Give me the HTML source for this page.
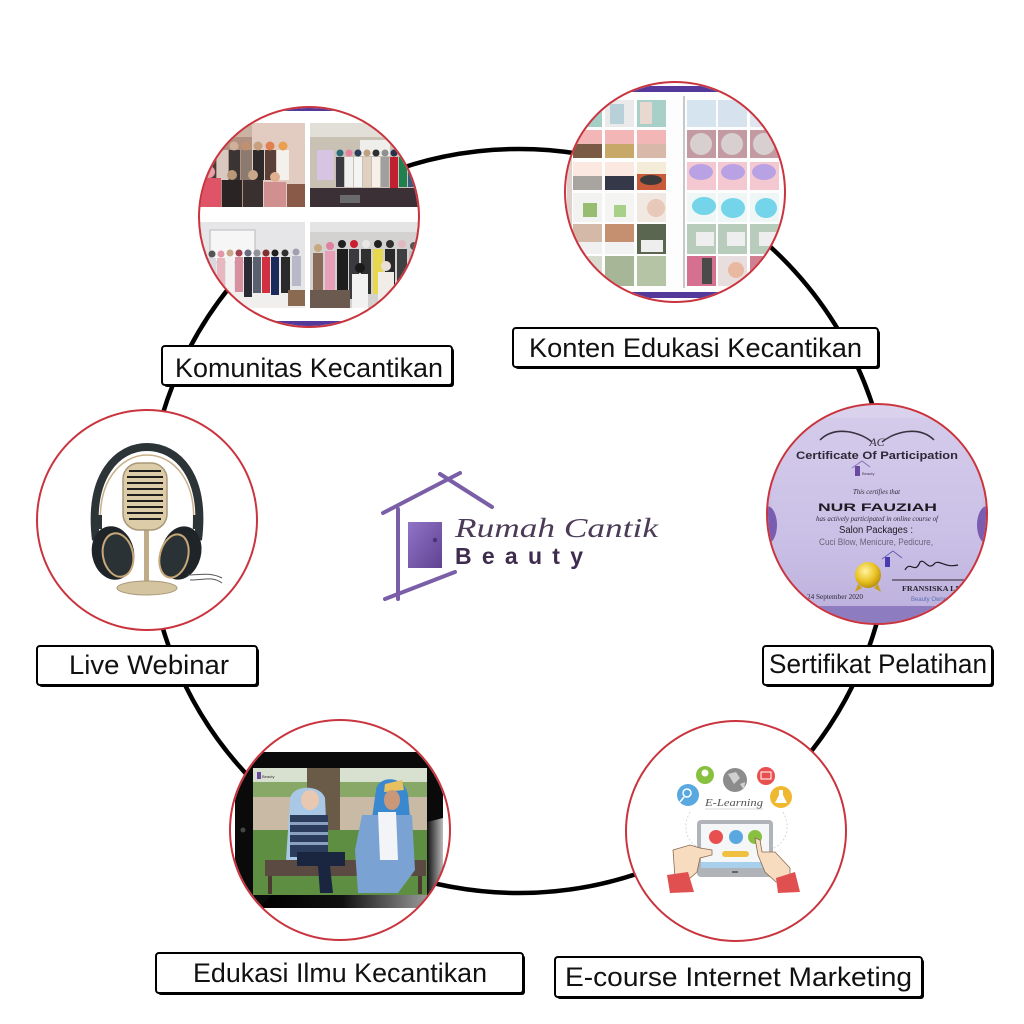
<!DOCTYPE html>
<html>
<head>
<meta charset="utf-8">
<style>
html,body{margin:0;padding:0;background:#fff;}
svg{display:block;}
</style>
</head>
<body>
<svg width="1024" height="1024" viewBox="0 0 1024 1024" xmlns="http://www.w3.org/2000/svg">
<defs>
  <clipPath id="c1"><circle cx="309" cy="217" r="109"/></clipPath>
  <clipPath id="c2"><circle cx="675" cy="192" r="109"/></clipPath>
  <clipPath id="c3"><circle cx="147" cy="520" r="109"/></clipPath>
  <clipPath id="c4"><circle cx="877" cy="514" r="109"/></clipPath>
  <clipPath id="c5"><circle cx="340" cy="830" r="109"/></clipPath>
  <clipPath id="c6"><circle cx="736" cy="831" r="109"/></clipPath>
  <linearGradient id="certg" x1="0" y1="0" x2="0" y2="1">
    <stop offset="0" stop-color="#dcd4ee"/>
    <stop offset="0.6" stop-color="#c4b8e2"/>
    <stop offset="1" stop-color="#a293cc"/>
  </linearGradient>
  <linearGradient id="doorg" x1="0" y1="0" x2="1" y2="1">
    <stop offset="0" stop-color="#9274c8"/>
    <stop offset="1" stop-color="#5f4290"/>
  </linearGradient>
  <linearGradient id="tabr" x1="0" y1="0" x2="1" y2="0">
    <stop offset="0" stop-color="#111"/>
    <stop offset="1" stop-color="#bbb"/>
  </linearGradient>
  <linearGradient id="tabb" x1="0" y1="0" x2="1" y2="0">
    <stop offset="0" stop-color="#000"/>
    <stop offset="0.5" stop-color="#111"/>
    <stop offset="1" stop-color="#999"/>
  </linearGradient>
  <radialGradient id="gold" cx="0.4" cy="0.35" r="0.7">
    <stop offset="0" stop-color="#fff4a0"/>
    <stop offset="0.6" stop-color="#e8c020"/>
    <stop offset="1" stop-color="#b08810"/>
  </radialGradient>
</defs>

<rect width="1024" height="1024" fill="#fff"/>

<!-- main ring -->
<circle cx="519" cy="521" r="372" fill="none" stroke="#000" stroke-width="4.5"/>

<!-- Logo -->
<g stroke="#7a5fa8" stroke-width="4" stroke-linecap="round" fill="none">
  <line x1="383" y1="513" x2="460" y2="473"/>
  <line x1="440" y1="474" x2="492" y2="507"/>
  <line x1="398" y1="509" x2="398" y2="599"/>
  <line x1="385" y1="599" x2="455" y2="572"/>
</g>
<rect x="408" y="522" width="34" height="46" fill="url(#doorg)"/>
<circle cx="435" cy="540" r="2.2" fill="#4a3278"/>
<text x="455" y="537" font-family="Liberation Serif, serif" font-style="italic" font-size="27" fill="#4b3b58" textLength="203" lengthAdjust="spacingAndGlyphs">Rumah Cantik</text>
<text x="455" y="564" font-family="Liberation Sans, sans-serif" font-weight="bold" font-size="23" fill="#3e2c4e" textLength="128" lengthAdjust="spacing">Beauty</text>

<!-- ===== Komunitas circle ===== -->
<circle cx="309" cy="217" r="110" fill="#fff"/>
<g clip-path="url(#c1)">
  <rect x="195" y="100" width="230" height="235" fill="#fff"/>
  <rect x="195" y="103" width="230" height="8" fill="#55399a"/>
  <rect x="195" y="321" width="230" height="9" fill="#55399a"/>
  <!-- TL photo -->
  <rect x="199" y="123" width="106" height="84" fill="#b09080"/>
  <rect x="252" y="123" width="53" height="84" fill="#e2ccc2"/>
  <rect x="199" y="123" width="53" height="14" fill="#cbb3a4"/>
  <g>
    <rect x="205" y="150" width="11" height="30" fill="#4a3a38"/><circle cx="210" cy="146" r="4.5" fill="#c7a890"/>
    <rect x="217" y="150" width="11" height="30" fill="#d8c8c0"/><circle cx="222" cy="146" r="4.5" fill="#a89080"/>
    <rect x="229" y="150" width="11" height="30" fill="#3a3434"/><circle cx="234" cy="146" r="4.5" fill="#d0b098"/>
    <rect x="241" y="150" width="11" height="30" fill="#8a7a70"/><circle cx="246" cy="146" r="4.5" fill="#c09070"/>
    <rect x="253" y="150" width="11" height="30" fill="#2e2a2a"/><circle cx="258" cy="146" r="4.5" fill="#c8a080"/>
    <rect x="265" y="150" width="11" height="30" fill="#5a4038"/><circle cx="270" cy="146" r="4.5" fill="#e08050"/>
    <rect x="277" y="150" width="12" height="30" fill="#f4f0ec"/><circle cx="283" cy="146" r="4.5" fill="#e8a050"/>
    <rect x="199" y="178" width="22" height="29" fill="#e05468"/><circle cx="209" cy="172" r="6" fill="#e8a0a8"/>
    <rect x="222" y="180" width="20" height="27" fill="#2a2424"/><circle cx="232" cy="175" r="5" fill="#b89878"/>
    <rect x="243" y="180" width="20" height="27" fill="#3a3030"/><circle cx="253" cy="175" r="5" fill="#c8a888"/>
    <rect x="264" y="182" width="22" height="25" fill="#d09090"/><circle cx="275" cy="177" r="5" fill="#e0b090"/>
    <rect x="287" y="184" width="18" height="23" fill="#8a5a48"/>
  </g>
  <!-- TR photo -->
  <rect x="310" y="123" width="112" height="84" fill="#c9c2b4"/>
  <rect x="310" y="123" width="112" height="14" fill="#e2dfd8"/>
  <rect x="360" y="140" width="30" height="16" fill="#eeeeea"/>
  <rect x="317" y="150" width="17" height="30" fill="#d6c4e2"/>
  <g>
    <circle cx="340" cy="153" r="3.5" fill="#2a6a7a"/><rect x="336" y="157" width="8" height="30" fill="#3a3a40"/>
    <circle cx="349" cy="153" r="3.5" fill="#e880a0"/><rect x="345" y="157" width="8" height="30" fill="#f0f0f0"/>
    <circle cx="358" cy="153" r="3.5" fill="#2a3a5a"/><rect x="354" y="157" width="8" height="30" fill="#f4f4f4"/>
    <circle cx="367" cy="153" r="3.5" fill="#c0a080"/><rect x="363" y="157" width="8" height="30" fill="#e0d0c0"/>
    <circle cx="376" cy="153" r="3.5" fill="#303030"/><rect x="372" y="157" width="8" height="30" fill="#f8f0e8"/>
    <circle cx="385" cy="153" r="3.5" fill="#909090"/><rect x="381" y="157" width="8" height="30" fill="#a0a0a0"/>
    <circle cx="394" cy="153" r="3.5" fill="#2a3050"/><rect x="390" y="157" width="8" height="35" fill="#c02030"/>
    <circle cx="403" cy="153" r="3.5" fill="#383838"/><rect x="399" y="157" width="8" height="30" fill="#208050"/>
    <circle cx="412" cy="153" r="3.5" fill="#3a6aa0"/><rect x="408" y="157" width="9" height="30" fill="#3a5a80"/>
  </g>
  <rect x="310" y="188" width="112" height="19" fill="#3a3036"/>
  <rect x="340" y="195" width="20" height="8" fill="#6a6a6a"/>
  <!-- BL photo -->
  <rect x="200" y="222" width="105" height="86" fill="#e6e6e8"/>
  <rect x="210" y="230" width="45" height="32" fill="#f6f6f6" stroke="#bbb" stroke-width="1"/>
  <rect x="200" y="290" width="105" height="18" fill="#f0efee"/>
  <g>
    <circle cx="212" cy="254" r="3.5" fill="#555"/><rect x="208" y="258" width="8" height="34" fill="#d8d8e0"/>
    <circle cx="221" cy="254" r="3.5" fill="#e098a8"/><rect x="217" y="258" width="8" height="34" fill="#e8b8c0"/>
    <circle cx="230" cy="253" r="3.5" fill="#c8a888"/><rect x="226" y="257" width="8" height="35" fill="#f2f2f2"/>
    <circle cx="239" cy="253" r="3.5" fill="#a04050"/><rect x="235" y="257" width="8" height="35" fill="#d890a0"/>
    <circle cx="248" cy="253" r="3.5" fill="#6a6a80"/><rect x="244" y="257" width="8" height="40" fill="#2a2a32"/>
    <circle cx="257" cy="253" r="3.5" fill="#909098"/><rect x="253" y="257" width="8" height="36" fill="#5a6070"/>
    <circle cx="266" cy="253" r="3.5" fill="#803030"/><rect x="262" y="257" width="8" height="36" fill="#d03040"/>
    <circle cx="275" cy="253" r="3.5" fill="#202020"/><rect x="271" y="257" width="8" height="38" fill="#1a2a5a"/>
    <circle cx="285" cy="253" r="3.5" fill="#303030"/><rect x="281" y="257" width="9" height="36" fill="#2a2a2a"/>
    <circle cx="296" cy="252" r="3.5" fill="#a0a0b0"/><rect x="292" y="256" width="9" height="30" fill="#b8b8c8"/>
  </g>
  <rect x="288" y="290" width="17" height="16" fill="#8a6a50"/>
  <!-- BR photo -->
  <rect x="310" y="222" width="112" height="86" fill="#d4d2d0"/>
  <rect x="310" y="222" width="112" height="10" fill="#e4e4e4"/>
  <g>
    <circle cx="318" cy="248" r="4" fill="#c8a880"/><rect x="313" y="253" width="10" height="55" fill="#8a6a58"/>
    <circle cx="330" cy="246" r="4" fill="#e080a0"/><rect x="325" y="251" width="10" height="55" fill="#e8a0b8"/>
    <circle cx="342" cy="244" r="4" fill="#202020"/><rect x="337" y="249" width="11" height="50" fill="#1e1e1e"/>
    <circle cx="354" cy="244" r="4" fill="#c82030"/><rect x="349" y="249" width="10" height="50" fill="#3a3a40"/>
    <circle cx="366" cy="244" r="4" fill="#e8e8e8"/><rect x="361" y="249" width="10" height="45" fill="#303030"/>
    <circle cx="378" cy="244" r="4" fill="#202020"/><rect x="373" y="249" width="10" height="45" fill="#e8d850"/>
    <circle cx="390" cy="244" r="4" fill="#303030"/><rect x="385" y="249" width="10" height="45" fill="#2a2a2a"/>
    <circle cx="402" cy="244" r="4" fill="#e0b8c0"/><rect x="397" y="249" width="10" height="45" fill="#404040"/>
    <circle cx="414" cy="246" r="4" fill="#555"/><rect x="409" y="251" width="10" height="45" fill="#c0c0c0"/>
    <circle cx="360" cy="268" r="5" fill="#1a1a1a"/><rect x="352" y="274" width="16" height="34" fill="#f2f2f2"/>
    <circle cx="386" cy="266" r="5" fill="#e8e0d8"/><rect x="378" y="272" width="16" height="36" fill="#f0ece8"/>
    <rect x="310" y="290" width="40" height="18" fill="#6a5a50"/>
  </g>
</g>
<circle cx="309" cy="217" r="110" fill="none" stroke="#c9343e" stroke-width="2"/>

<!-- ===== Konten circle ===== -->
<circle cx="675" cy="192" r="110" fill="#fff"/>
<g clip-path="url(#c2)">
  <rect x="560" y="80" width="230" height="225" fill="#fdfdfd"/>
  <rect x="560" y="86" width="230" height="6" fill="#55399a"/>
  <rect x="560" y="292" width="230" height="6" fill="#55399a"/>
  <rect x="683" y="96" width="2" height="192" fill="#c8c8c8"/>
  <rect x="567" y="100" width="5" height="185" fill="#e0d0cc"/>
  <rect x="573" y="100" width="29" height="27" fill="#a4cfc4"/>
  <rect x="605" y="100" width="29" height="27" fill="#eaeaea"/><rect x="610" y="104" width="14" height="20" fill="#b8d0d8"/>
  <rect x="637" y="100" width="29" height="27" fill="#a8cfc8"/><rect x="640" y="102" width="12" height="22" fill="#e8d8d0"/>
  <rect x="573" y="130" width="29" height="28" fill="#f2b6b6"/><rect x="573" y="144" width="29" height="14" fill="#7a5a44"/>
  <rect x="605" y="130" width="29" height="28" fill="#f2b6b6"/><rect x="605" y="144" width="29" height="14" fill="#c8a868"/>
  <rect x="637" y="130" width="29" height="28" fill="#f2b6b6"/><rect x="637" y="144" width="29" height="14" fill="#d8b8a8"/>
  <rect x="573" y="162" width="29" height="28" fill="#fbe8e0"/><rect x="573" y="176" width="29" height="14" fill="#a8a4a0"/>
  <rect x="605" y="162" width="29" height="28" fill="#fbe8e0"/><rect x="605" y="176" width="29" height="14" fill="#343848"/>
  <rect x="637" y="162" width="29" height="28" fill="#f4ecd8"/><rect x="637" y="174" width="29" height="16" fill="#c85a3a"/><ellipse cx="651" cy="180" rx="11" ry="5" fill="#3a3a3a"/>
  <rect x="573" y="193" width="29" height="29" fill="#f2f2f0"/><rect x="583" y="203" width="14" height="14" fill="#98bc70"/>
  <rect x="605" y="193" width="29" height="29" fill="#f4f4f2"/><rect x="614" y="205" width="12" height="12" fill="#a8d088"/>
  <rect x="637" y="193" width="29" height="29" fill="#f2e8e2"/><circle cx="656" cy="208" r="9" fill="#e8c8b8"/>
  <rect x="573" y="224" width="29" height="30" fill="#d4b8a8"/><rect x="573" y="242" width="29" height="12" fill="#f0f0f0"/>
  <rect x="605" y="224" width="29" height="30" fill="#c49070"/><rect x="605" y="242" width="29" height="12" fill="#f2f2f2"/>
  <rect x="637" y="224" width="29" height="30" fill="#5a6650"/><rect x="641" y="240" width="22" height="12" fill="#eeeeee"/>
  <rect x="573" y="256" width="29" height="30" fill="#d8dcd0"/>
  <rect x="605" y="256" width="29" height="30" fill="#a8b698"/>
  <rect x="637" y="256" width="29" height="30" fill="#b4c4a4"/>
  <rect x="687" y="100" width="29" height="27" fill="#d6e4f0"/>
  <rect x="718" y="100" width="29" height="27" fill="#d6e2ee"/>
  <rect x="750" y="100" width="29" height="27" fill="#dfe6ef"/>
  <rect x="687" y="130" width="29" height="28" fill="#c49aa2"/><circle cx="701" cy="144" r="11" fill="#d8d0d0"/>
  <rect x="718" y="130" width="29" height="28" fill="#c49aa2"/><circle cx="732" cy="144" r="11" fill="#d8d0d0"/>
  <rect x="750" y="130" width="29" height="28" fill="#c49aa2"/><circle cx="764" cy="144" r="11" fill="#d8d0d0"/>
  <rect x="687" y="162" width="29" height="28" fill="#f4c8d0"/><ellipse cx="701" cy="172" rx="12" ry="8" fill="#b8a2e4"/>
  <rect x="718" y="162" width="29" height="28" fill="#f4c8d0"/><ellipse cx="733" cy="172" rx="12" ry="8" fill="#b8a2e4"/>
  <rect x="750" y="162" width="29" height="28" fill="#f4c8d0"/><ellipse cx="764" cy="172" rx="12" ry="8" fill="#b8a2e4"/>
  <rect x="687" y="193" width="29" height="29" fill="#eef6f6"/><ellipse cx="704" cy="206" rx="12" ry="9" fill="#74d4ea"/>
  <rect x="718" y="193" width="29" height="29" fill="#eef6f6"/><ellipse cx="733" cy="208" rx="12" ry="10" fill="#74d4ea"/>
  <rect x="750" y="193" width="29" height="29" fill="#eef6f6"/><ellipse cx="766" cy="208" rx="11" ry="10" fill="#74d4ea"/>
  <rect x="687" y="224" width="29" height="30" fill="#b8ccbc"/><rect x="696" y="232" width="18" height="14" fill="#eee"/>
  <rect x="718" y="224" width="29" height="30" fill="#b8ccbc"/><rect x="727" y="232" width="18" height="14" fill="#eee"/>
  <rect x="750" y="224" width="29" height="30" fill="#b8ccbc"/><rect x="759" y="232" width="18" height="14" fill="#eee"/>
  <rect x="687" y="256" width="29" height="30" fill="#d67090"/><rect x="702" y="258" width="10" height="26" fill="#4a4a4a"/>
  <rect x="718" y="256" width="29" height="30" fill="#e8dede"/><circle cx="736" cy="270" r="8" fill="#e8b8a0"/>
  <rect x="750" y="256" width="29" height="30" fill="#d08090"/>
</g>
<circle cx="675" cy="192" r="110" fill="none" stroke="#c9343e" stroke-width="2"/>

<!-- ===== Live Webinar circle ===== -->
<circle cx="147" cy="520" r="110" fill="#fff"/>
<g clip-path="url(#c3)">
  <path d="M96 540 C88 475 118 447 147 447 C177 447 206 475 198 540" fill="none" stroke="#2c3438" stroke-width="8"/>
  <path d="M101 530 C96 480 122 455 147 455 C173 455 198 480 193 530" fill="none" stroke="#c8b088" stroke-width="1.5"/>
  <rect x="93" y="515" width="9" height="14" fill="#2c3438"/>
  <rect x="193" y="515" width="9" height="14" fill="#2c3438"/>
  <ellipse cx="113" cy="553" rx="21" ry="27" fill="#1e2428" transform="rotate(-12 113 553)"/>
  <ellipse cx="118" cy="555" rx="15" ry="22" fill="#2a3236" stroke="#c8a878" stroke-width="2" transform="rotate(-12 118 555)"/>
  <ellipse cx="181" cy="553" rx="20" ry="27" fill="#1e2428" transform="rotate(15 181 553)"/>
  <ellipse cx="174" cy="556" rx="14" ry="22" fill="#2a3236" stroke="#c8a878" stroke-width="2" transform="rotate(15 174 556)"/>
  <path d="M188 575 C200 575 210 572 222 578" fill="none" stroke="#555" stroke-width="1"/>
  <path d="M190 580 C205 580 212 576 222 583" fill="none" stroke="#555" stroke-width="1"/>
  <rect x="144" y="528" width="5" height="56" fill="#c0ac88"/>
  <ellipse cx="147" cy="588" rx="30" ry="7" fill="#d4c4a0" stroke="#a89878" stroke-width="1"/>
  <rect x="123" y="463" width="44" height="67" rx="16" fill="#dccca8" stroke="#a89878" stroke-width="1.5"/>
  <g stroke="#1e1e1e" stroke-width="2">
    <line x1="129" y1="471" x2="161" y2="471"/>
    <line x1="127" y1="477" x2="163" y2="477"/>
    <line x1="127" y1="483" x2="163" y2="483"/>
    <line x1="127" y1="489" x2="163" y2="489"/>
    <line x1="127" y1="495" x2="163" y2="495"/>
    <line x1="127" y1="501" x2="163" y2="501"/>
    <line x1="127" y1="507" x2="163" y2="507"/>
    <line x1="127" y1="513" x2="163" y2="513"/>
    <line x1="129" y1="519" x2="161" y2="519"/>
  </g>
</g>
<circle cx="147" cy="520" r="110" fill="none" stroke="#c9343e" stroke-width="2"/>

<!-- ===== Certificate circle ===== -->
<circle cx="877" cy="514" r="110" fill="#fff"/>
<g clip-path="url(#c4)">
  <rect x="765" y="402" width="225" height="225" fill="url(#certg)"/>
  <rect x="772" y="418" width="210" height="188" fill="#cfc6ea" opacity="0.55"/>
  <rect x="765" y="606" width="225" height="20" fill="#8e7cc0"/>
  <ellipse cx="767" cy="525" rx="10" ry="19" fill="#7a5cb0"/>
  <ellipse cx="987" cy="525" rx="10" ry="19" fill="#7a5cb0"/>
  <path d="M820 440 C835 425 860 432 872 442 M934 440 C919 425 894 432 882 442" fill="none" stroke="#3a3040" stroke-width="1.5"/>
  <text x="877" y="446" font-family="Liberation Serif, serif" font-style="italic" font-size="12" fill="#3a3040" text-anchor="middle">AC</text>
  <text x="796" y="459" font-family="Liberation Sans, sans-serif" font-weight="bold" font-size="11" fill="#2e2838" textLength="162" lengthAdjust="spacingAndGlyphs">Certificate Of Participation</text>
  <rect x="855" y="466" width="5" height="10" fill="#6a4aa0"/>
  <path d="M852 468 L862 461 L870 467" fill="none" stroke="#8a70b8" stroke-width="1"/>
  <text x="862" y="475" font-family="Liberation Sans, sans-serif" font-size="4" fill="#4a3a5a">Beauty</text>
  <text x="853" y="494" font-family="Liberation Serif, serif" font-style="italic" font-size="7" fill="#2e2838" textLength="47" lengthAdjust="spacingAndGlyphs">This certifies that</text>
  <text x="818" y="511" font-family="Liberation Sans, sans-serif" font-weight="bold" font-size="11" fill="#1e1a22" textLength="119" lengthAdjust="spacingAndGlyphs">NUR FAUZIAH</text>
  <text x="816" y="521" font-family="Liberation Serif, serif" font-style="italic" font-size="7" fill="#2e2838" textLength="122" lengthAdjust="spacingAndGlyphs">has actively participated in online course of</text>
  <text x="839" y="533" font-family="Liberation Sans, sans-serif" font-size="10" fill="#1e1a22" textLength="74" lengthAdjust="spacingAndGlyphs">Salon Packages :</text>
  <text x="819" y="545" font-family="Liberation Sans, sans-serif" font-size="9" fill="#6a6478" textLength="114" lengthAdjust="spacingAndGlyphs">Cuci Blow, Menicure, Pedicure,</text>
  <rect x="885" y="557" width="5" height="10" fill="#4a3ab0"/>
  <path d="M882 559 L893 551 L902 558" fill="none" stroke="#6a60b0" stroke-width="1"/>
  <path d="M905 570 C910 560 915 575 920 562 C925 558 928 572 935 563 C940 560 945 568 958 565" fill="none" stroke="#1e1a22" stroke-width="1.2"/>
  <circle cx="868" cy="575" r="13" fill="url(#gold)"/>
  <path d="M858 584 L855 592 L862 588 Z M878 584 L881 592 L874 588 Z" fill="#c8a020"/>
  <line x1="892" y1="580" x2="965" y2="580" stroke="#2a2430" stroke-width="1"/>
  <text x="902" y="591" font-family="Liberation Serif, serif" font-weight="bold" font-size="7.5" fill="#2a2430" textLength="62" lengthAdjust="spacingAndGlyphs">FRANSISKA LIE</text>
  <text x="911" y="601" font-family="Liberation Sans, sans-serif" font-size="6" fill="#5a70b0" textLength="38" lengthAdjust="spacingAndGlyphs">Beauty Owner</text>
  <text x="807" y="599" font-family="Liberation Serif, serif" font-size="7" fill="#2a2430" textLength="56" lengthAdjust="spacingAndGlyphs">24 September 2020</text>
</g>
<circle cx="877" cy="514" r="110" fill="none" stroke="#c9343e" stroke-width="2"/>

<!-- ===== Edukasi circle ===== -->
<circle cx="340" cy="830" r="110" fill="#fff"/>
<g clip-path="url(#c5)">
  <rect x="235" y="752" width="208" height="156" rx="8" fill="#0a0a0a"/>
  <path d="M427 822 L443 818 L443 895 L427 895 Z" fill="url(#tabr)"/>
  <path d="M258 908 L272 895 L427 895 L427 908 Z" fill="url(#tabb)"/>
  <circle cx="243" cy="830" r="2.5" fill="#444"/>
  <rect x="253" y="768" width="174" height="127" fill="#7a9a58"/>
  <rect x="253" y="768" width="174" height="22" fill="#d8e0d0"/>
  <rect x="253" y="782" width="174" height="15" fill="#88a868"/>
  <rect x="253" y="797" width="174" height="33" fill="#c8baa4"/>
  <rect x="253" y="830" width="174" height="65" fill="#5e8e42"/>
  <rect x="307" y="768" width="33" height="62" fill="#6a5a48"/>
  <rect x="257" y="772" width="4" height="7" fill="#6a4aa0"/>
  <text x="262" y="778" font-family="Liberation Sans, sans-serif" font-size="4" fill="#333">Beauty</text>
  <rect x="265" y="860" width="161" height="16" fill="#5a4a42"/>
  <rect x="268" y="876" width="4" height="18" fill="#4a3a32"/>
  <rect x="418" y="876" width="4" height="18" fill="#4a3a32"/>
  <path d="M290 800 C290 785 320 783 325 798 L328 860 L286 860 Z" fill="#a8c8e6"/>
  <rect x="290" y="815" width="38" height="42" fill="#2c3c5c"/>
  <rect x="290" y="822" width="38" height="3" fill="#8aa0c0"/>
  <rect x="290" y="832" width="38" height="3" fill="#8aa0c0"/>
  <rect x="290" y="842" width="38" height="3" fill="#8aa0c0"/>
  <ellipse cx="310" cy="800" rx="9" ry="10" fill="#e8c8b0"/>
  <path d="M297 852 L345 852 L345 866 L330 866 L333 893 L320 893 L318 866 L297 866 Z" fill="#1a2640"/>
  <path d="M376 790 C378 775 405 775 408 795 L410 818 L372 818 Z" fill="#3a88d0"/>
  <path d="M385 784 L402 780 L404 790 L384 792 Z" fill="#e8c060"/>
  <ellipse cx="392" cy="800" rx="8" ry="10" fill="#c89878"/>
  <path d="M362 815 L412 815 L415 870 L398 893 L358 893 L355 850 Z" fill="#7aa2d2"/>
  <path d="M378 812 L396 812 L398 860 L380 860 Z" fill="#f2f4f8"/>
</g>
<circle cx="340" cy="830" r="110" fill="none" stroke="#c9343e" stroke-width="2"/>

<!-- ===== E-course circle ===== -->
<circle cx="736" cy="831" r="110" fill="#fff"/>
<g clip-path="url(#c6)">
  <path d="M690 812 C680 830 690 845 700 848 M783 812 C793 830 783 845 773 848" fill="none" stroke="#d8d8d8" stroke-width="1" stroke-dasharray="2 2"/>
  <circle cx="688" cy="795" r="11" fill="#5aa8e0"/>
  <circle cx="687" cy="793" r="4" fill="none" stroke="#fff" stroke-width="1.5"/>
  <line x1="684" y1="797" x2="680" y2="802" stroke="#fff" stroke-width="1.5"/>
  <circle cx="705" cy="775" r="9" fill="#88c040"/>
  <circle cx="705" cy="773" r="3.5" fill="#fff"/>
  <circle cx="735" cy="780" r="12" fill="#8c8c8c"/>
  <path d="M728 774 L736 772 L740 778 L734 784 Z M740 784 L745 782 L744 790 Z" fill="#d0d0d0"/>
  <circle cx="766" cy="776" r="9" fill="#e85050"/>
  <rect x="761" y="772" width="10" height="7" fill="none" stroke="#fff" stroke-width="1"/>
  <circle cx="781" cy="797" r="11" fill="#f0b830"/>
  <path d="M779 790 L783 790 L783 795 L787 803 L775 803 L779 795 Z" fill="#fff"/>
  <text x="705" y="806" font-family="Liberation Serif, serif" font-style="italic" font-size="11" fill="#555" textLength="58" lengthAdjust="spacingAndGlyphs">E-Learning</text>
  <line x1="705" y1="809" x2="763" y2="809" stroke="#ccc" stroke-width="0.8"/>
  <rect x="697" y="820" width="76" height="57" rx="4" fill="#b0b4b8"/>
  <rect x="701" y="824" width="68" height="44" fill="#f4f6f8"/>
  <rect x="701" y="862" width="68" height="6" fill="#a8d0ec"/>
  <rect x="732" y="871" width="6" height="2" fill="#666"/>
  <circle cx="716" cy="837" r="7" fill="#e85050"/>
  <circle cx="736" cy="837" r="7" fill="#5aa8e0"/>
  <circle cx="755" cy="837" r="7" fill="#88c040"/>
  <rect x="722" y="851" width="27" height="6" rx="3" fill="#f0c040"/>
  <path d="M673 850 L690 845 L700 848 L712 850 L712 855 L700 858 L697 872 L688 880 L675 878 Z" fill="#f8dcc0" stroke="#8a6a50" stroke-width="0.8"/>
  <path d="M667 875 L688 872 L694 892 L670 893 Z" fill="#e05050"/>
  <path d="M755 838 L760 840 L762 852 L775 852 L790 868 L790 880 L776 882 L765 872 L758 855 Z" fill="#f8dcc0" stroke="#8a6a50" stroke-width="0.8"/>
  <path d="M776 878 L795 872 L800 892 L778 893 Z" fill="#e05050"/>
</g>
<circle cx="736" cy="831" r="110" fill="none" stroke="#c9343e" stroke-width="2"/>

<!-- ===== Labels ===== -->
<g font-family="Liberation Sans, sans-serif" font-size="27" fill="#111">
  <rect x="164" y="348" width="290" height="39" rx="3" fill="#000"/>
  <rect x="162" y="346" width="290" height="39" rx="3" fill="#fff" stroke="#000" stroke-width="2"/>
  <text x="175" y="377" textLength="268" lengthAdjust="spacingAndGlyphs">Komunitas Kecantikan</text>

  <rect x="515" y="330" width="365" height="39" rx="3" fill="#000"/>
  <rect x="513" y="328" width="365" height="39" rx="3" fill="#fff" stroke="#000" stroke-width="2"/>
  <text x="529" y="357" textLength="333" lengthAdjust="spacingAndGlyphs">Konten Edukasi Kecantikan</text>

  <rect x="39" y="648" width="220" height="39" rx="3" fill="#000"/>
  <rect x="37" y="646" width="220" height="39" rx="3" fill="#fff" stroke="#000" stroke-width="2"/>
  <text x="69" y="674" textLength="160" lengthAdjust="spacingAndGlyphs">Live Webinar</text>

  <rect x="765" y="648" width="229" height="39" rx="3" fill="#000"/>
  <rect x="763" y="646" width="229" height="39" rx="3" fill="#fff" stroke="#000" stroke-width="2"/>
  <text x="769" y="673" textLength="218" lengthAdjust="spacingAndGlyphs">Sertifikat Pelatihan</text>

  <rect x="158" y="955" width="367" height="40" rx="3" fill="#000"/>
  <rect x="156" y="953" width="367" height="40" rx="3" fill="#fff" stroke="#000" stroke-width="2"/>
  <text x="193" y="982" textLength="294" lengthAdjust="spacingAndGlyphs">Edukasi Ilmu Kecantikan</text>

  <rect x="557" y="959" width="367" height="40" rx="3" fill="#000"/>
  <rect x="555" y="957" width="367" height="40" rx="3" fill="#fff" stroke="#000" stroke-width="2"/>
  <text x="565" y="986" textLength="347" lengthAdjust="spacingAndGlyphs">E-course Internet Marketing</text>
</g>
</svg>
</body>
</html>
